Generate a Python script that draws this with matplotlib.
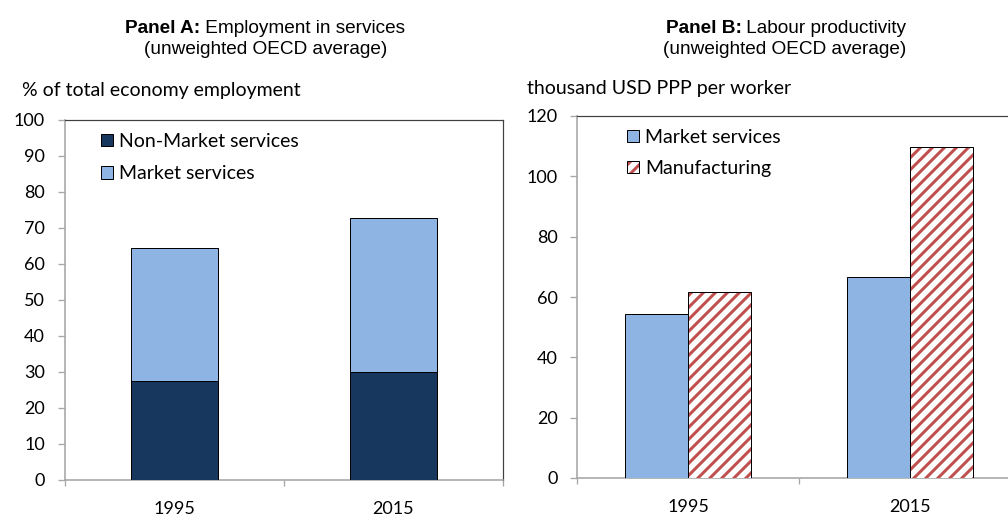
import matplotlib
matplotlib.use("Agg")
import matplotlib.pyplot as plt
from matplotlib.patches import Patch
from matplotlib.legend_handler import HandlerTuple
import numpy as np

# ---------------- data ----------------
years = ["1995", "2015"]
nonmarket_services = [27.6, 30.1]        # % of total employment
market_services_emp = [36.8, 42.6]       # % of total employment (stacked on top)
market_services_prod = [54.3, 66.5]      # thousand USD PPP per worker
manufacturing_prod = [61.8, 109.8]       # thousand USD PPP per worker

# ---------------- style ----------------
W, H = 1008, 515
DPI = 72
fig = plt.figure(figsize=(W / DPI, H / DPI), dpi=DPI)
fig.patch.set_facecolor("white")

TICK_FONT = "Lato"
TITLE_FONT = "Liberation Sans"
FS = 18
LFS = 19.5
TFS = 19
AXIS_GRAY = "#A6A6A6"
FRAME_DARK = "#404040"
NAVY = "#17375E"
LIGHTBLUE = "#8EB4E3"
RED = "#C0504D"

plt.rcParams["hatch.linewidth"] = 3.0


def ax_rect(l, r, t, b):
    return [l / W, 1 - b / H, (r - l) / W, (b - t) / H]


def style_axes(ax, ymax, ystep, ypad):
    for s in ["left", "bottom"]:
        ax.spines[s].set_color(AXIS_GRAY)
        ax.spines[s].set_linewidth(1.6)
    for s in ["top", "right"]:
        ax.spines[s].set_color(FRAME_DARK)
        ax.spines[s].set_linewidth(1.2)
    ax.set_ylim(0, ymax)
    ax.set_yticks(np.arange(0, ymax + 1, ystep))
    ax.tick_params(axis="y", direction="out", length=7, width=1.3, color=AXIS_GRAY,
                   pad=ypad, labelsize=FS)
    ax.set_xlim(-0.5, len(years) - 0.5)
    ax.set_xticks(np.arange(len(years)))
    ax.set_xticklabels(years)
    ax.set_xticks(np.arange(-0.5, len(years)), minor=True)
    ax.tick_params(axis="x", which="major", length=0, pad=21, labelsize=FS)
    ax.tick_params(axis="x", which="minor", direction="out", length=6, width=1.3,
                   color=AXIS_GRAY)
    for lab in ax.get_xticklabels() + ax.get_yticklabels():
        lab.set_fontfamily(TICK_FONT)


x = np.arange(len(years))

# ---------------- Panel A ----------------
axA = fig.add_axes(ax_rect(65, 503, 120, 480))
style_axes(axA, 100, 10, 13)
bA1 = axA.bar(x, nonmarket_services, width=0.4, color=NAVY, edgecolor="black",
              linewidth=1.0, zorder=3)
bA2 = axA.bar(x, market_services_emp, bottom=nonmarket_services, width=0.4,
              color=LIGHTBLUE, edgecolor="black", linewidth=1.0, zorder=3)
legA = axA.legend([bA1, bA2], ["Non-Market services", "Market services"],
                  loc="upper left", bbox_to_anchor=(101 / W, 1 - 133 / H),
                  bbox_transform=fig.transFigure, frameon=False,
                  prop={"family": TICK_FONT, "size": LFS},
                  handlelength=0.62, handleheight=0.62, handletextpad=0.32,
                  labelspacing=0.78, borderpad=0, borderaxespad=0)

# ---------------- Panel B ----------------
axB = fig.add_axes(ax_rect(577, 1021, 116, 478))
style_axes(axB, 120, 20, 12)
bw = 0.285
bB1 = axB.bar(x - bw / 2, market_services_prod, width=bw, color=LIGHTBLUE,
              edgecolor="black", linewidth=1.0, zorder=3)
bB2h = axB.bar(x + bw / 2, manufacturing_prod, width=bw, color="white",
               edgecolor=RED, hatch="//", linewidth=0, zorder=3)
bB2o = axB.bar(x + bw / 2, manufacturing_prod, width=bw, fill=False,
               edgecolor="black", linewidth=1.0, zorder=4)
hB1 = Patch(facecolor=LIGHTBLUE, edgecolor="black", linewidth=1.0)
hB2a = Patch(facecolor="white", edgecolor=RED, hatch="//", linewidth=0)
hB2b = Patch(fill=False, edgecolor="black", linewidth=1.0)
legB = axB.legend([hB1, (hB2a, hB2b)], ["Market services", "Manufacturing"],
                  handler_map={tuple: HandlerTuple(ndivide=1, pad=0)},
                  loc="upper left", bbox_to_anchor=(627 / W, 1 - 129 / H),
                  bbox_transform=fig.transFigure, frameon=False,
                  prop={"family": TICK_FONT, "size": LFS},
                  handlelength=0.62, handleheight=0.62, handletextpad=0.32,
                  labelspacing=0.72, borderpad=0, borderaxespad=0)

# ---------------- unit labels ----------------
fig.text(22 / W, 1 - 96 / H, "% of total economy employment", family=TICK_FONT,
         size=LFS, ha="left", va="baseline")
fig.text(527 / W, 1 - 94 / H, "thousand USD PPP per worker", family=TICK_FONT,
         size=LFS, ha="left", va="baseline")

# ---------------- titles (bold prefix + regular) ----------------
fig.canvas.draw()
renderer = fig.canvas.get_renderer()


def mixed_title(cx, baseline, bold, regular):
    tb = fig.text(0, 1 - baseline / H, bold, family=TITLE_FONT, size=TFS,
                  weight="bold", ha="left", va="baseline")
    tr = fig.text(0, 1 - baseline / H, regular, family=TITLE_FONT, size=TFS,
                  ha="left", va="baseline")
    wb = tb.get_window_extent(renderer).width
    wr = tr.get_window_extent(renderer).width
    x0 = cx - (wb + wr) / 2
    tb.set_x(x0 / W)
    tr.set_x((x0 + wb) / W)


def plain_title(cx, baseline, s):
    fig.text(cx / W, 1 - baseline / H, s, family=TITLE_FONT, size=TFS,
             ha="center", va="baseline")


mixed_title(265, 33, "Panel A:", " Employment in services")
plain_title(266, 53.5, "(unweighted OECD average)")
mixed_title(786, 33, "Panel B:", " Labour productivity")
plain_title(785, 53.5, "(unweighted OECD average)")

fig.savefig("out.png", dpi=DPI, facecolor="white")
